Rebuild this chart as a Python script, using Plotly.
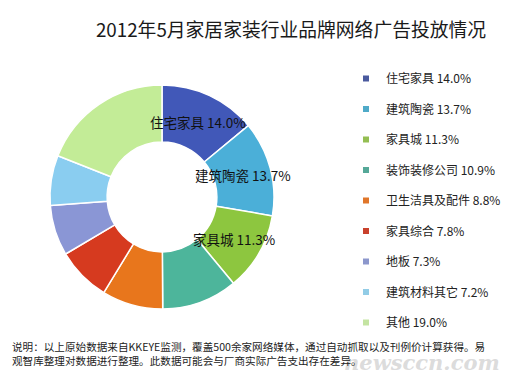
import math
import plotly.graph_objects as go

# ---- data ----
title_text = "2012年5月家居家装行业品牌网络广告投放情况"
categories = ["住宅家具", "建筑陶瓷", "家具城", "装饰装修公司", "卫生洁具及配件",
              "家具综合", "地板", "建筑材料其它", "其他"]
values = [14.0, 13.7, 11.3, 10.9, 8.8, 7.8, 7.3, 7.2, 19.0]
colors = ["#4158B8", "#4BAFD8", "#8DC63F", "#4DB59B", "#E8761C",
          "#D63A1F", "#8A96D5", "#8ACDF0", "#C3EC97"]
legend_colors = ["#4A5A9E", "#4FAAC8", "#94BE52", "#55A898", "#E0762A",
                 "#C9412C", "#8C97CC", "#92CCE6", "#C4E4A2"]
labelled = 3  # slices carrying in-chart labels
note_text = ("说明：以上原始数据来自KKEYE监测，覆盖500余家网络媒体，通过自动抓取以及刊例价计算获得。易"
             "<br>观智库整理对数据进行整理。此数据可能会与厂商实际广告支出存在差异。")

# the page body has an 8px margin; the figure fills the rest of the 521x385 window
OFF = 8
W, H = 521 - OFF, 385 - OFF
font_cjk = "Noto Sans CJK SC, Microsoft YaHei, sans-serif"


def px_x(X):  # screen px -> paper x
    return (X - OFF) / W


def px_y(Y):  # screen px -> paper y
    return (H - (Y - OFF)) / H


# pie geometry (screen pixels)
cx, cy, R = 162, 197, 112
hole = 0.49
dom_x = [px_x(cx - R), px_x(cx + R)]
dom_y = [px_y(cy + R), px_y(cy - R)]

fig = go.Figure()
fig.add_trace(go.Pie(
    labels=categories, values=values, sort=False, direction="clockwise",
    rotation=0, hole=hole, textinfo="none", showlegend=False,
    marker=dict(colors=colors, line=dict(color="white", width=1.5)),
    domain=dict(x=dom_x, y=dom_y),
    hovertemplate="%{label} %{value:.1f}%<extra></extra>",
))

# legend entries
for c, v, col in zip(categories, values, legend_colors):
    fig.add_trace(go.Scatter(
        x=[None], y=[None], mode="markers", name=f"{c} {v:.1f}%",
        legendgroup=c, marker=dict(symbol="square", size=6, color=col),
        hoverinfo="skip",
    ))

# in-slice labels computed from the data
total = sum(values)
annotations = []
cum = 0.0
r_mid = R * (1 + hole) / 2
for i, (c, v) in enumerate(zip(categories, values)):
    theta = 2 * math.pi * (cum + v / 2) / total
    cum += v
    if i >= labelled:
        continue
    X = cx + r_mid * math.sin(theta)
    Y = cy - r_mid * math.cos(theta)
    annotations.append(dict(
        x=px_x(X), y=px_y(Y), xref="paper", yref="paper",
        text=f"{c} {v:.1f}%", showarrow=False, xanchor="center", yanchor="middle",
        font=dict(family=font_cjk, size=13.5, color="#111111"),
    ))

# watermark
annotations.append(dict(
    x=px_x(502), y=px_y(362), xref="paper", yref="paper", text="<b><i>newsccn.com</i></b>",
    showarrow=False, xanchor="right", yanchor="middle",
    font=dict(family="DejaVu Serif, serif", size=21, color="rgba(200,200,200,0.65)"),
))
# footnote
annotations.append(dict(
    x=px_x(10), y=px_y(353), xref="paper", yref="paper", text=note_text,
    showarrow=False, xanchor="left", yanchor="middle", align="left",
    font=dict(family=font_cjk, size=10.6, color="#222222"),
))

fig.update_layout(
    width=W, height=H,
    margin=dict(l=0, r=0, t=0, b=0),
    paper_bgcolor="white", plot_bgcolor="white",
    title=dict(text=title_text, x=px_x(291), xanchor="center", y=px_y(30), yanchor="middle",
               font=dict(family=font_cjk, size=18.8, color="#1a1a1a")),
    xaxis=dict(visible=False), yaxis=dict(visible=False),
    legend=dict(x=px_x(346), xanchor="left", y=px_y(64), yanchor="top",
                traceorder="grouped", tracegroupgap=11.5, itemwidth=30,
                font=dict(family=font_cjk, size=12, color="#222222"),
                bgcolor="rgba(0,0,0,0)"),
    annotations=annotations,
)

fig.write_html("out.html")
